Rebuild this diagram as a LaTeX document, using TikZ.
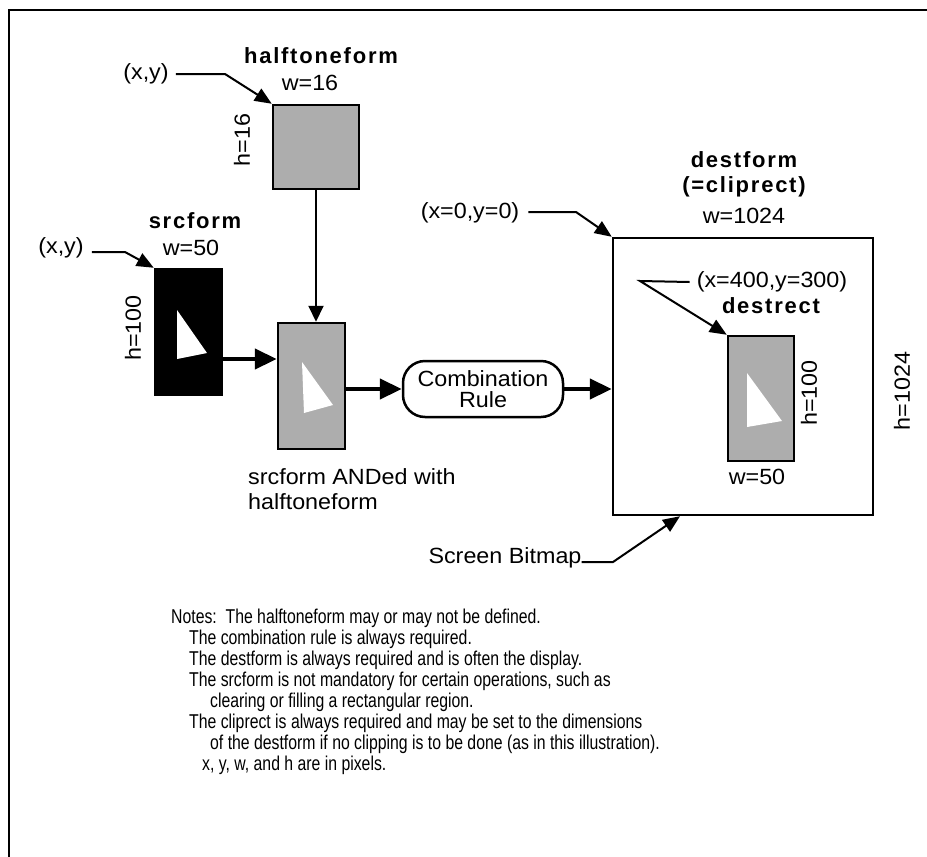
\documentclass[tikz,border=0pt]{standalone}
\usepackage{fontspec}
\setmainfont{Liberation Sans}[FakeStretch=1.06]
\newfontfamily\boldlabfont{Liberation Sans Bold}[LetterSpace=8]
\newfontfamily\notefont{Liberation Sans}[FakeStretch=0.79]
\usetikzlibrary{arrows.meta}
\tikzset{
  lab/.style={font=\fontsize{22}{21}\selectfont, inner sep=0pt, align=center},
  blab/.style={font=\boldlabfont\fontsize{22}{24}\selectfont, inner sep=0pt, align=center},
  formbox/.style={draw, line width=2.5pt, inner sep=0pt},
  halftone/.style={formbox, fill=black!32},
  leader/.style={line width=2pt, -{Triangle[length=17pt,width=14pt]}},
  thinarrow/.style={line width=2pt, -{Triangle[length=16pt,width=15pt]}},
  thickarrow/.style={line width=4.5pt, -{Triangle[length=22pt,width=20pt]}},
  notes/.style={font=\notefont\fontsize{20}{21}\selectfont, inner sep=0pt, align=left}
}
\begin{document}
\begin{tikzpicture}[x=1pt,y=-1pt]
\useasboundingbox (0,0) rectangle (927,857);
% frame
\draw[line width=2pt] (9,857) -- (9,10) -- (927,10);

% boxes
\node[halftone, minimum width=86pt, minimum height=84pt] (half) at (316,147) {};
\node[formbox, fill=black, minimum width=67pt, minimum height=126pt] (src) at (188.5,332) {};
\node[halftone, minimum width=67pt, minimum height=126pt] (and) at (311.5,386) {};
\node[draw, line width=2.5pt, rounded corners=22pt, minimum width=160pt, minimum height=56pt, lab] (comb) at (483,389) {Combination\\Rule};
\node[formbox, minimum width=260pt, minimum height=277pt] (dest) at (743,376.5) {};
\node[halftone, minimum width=66pt, minimum height=125pt] (rect) at (761,398.5) {};

% white triangles
\fill[white] (177,310) -- (177,359) -- (207,353) -- cycle;
\fill[white] (302,362) -- (304,413) -- (333,405) -- cycle;
\fill[white] (747,373) -- (747,427) -- (782,421) -- cycle;

% labels
\node[blab] (halfname) at (321,56) {halftoneform};
\node[lab] (halfw) at (310,83) {w=16};
\node[lab, rotate=90] (halfh) at (242,140) {h=16};
\node[lab] (hxy) at (146,74) {(x,y)};

\node[blab] (srcname) at (195,221) {srcform};
\node[lab] (srcw) at (191,248) {w=50};
\node[lab, rotate=90] (srch) at (133,328) {h=100};
\node[lab] (sxy) at (61,248) {(x,y)};

\node[lab, align=left, anchor=north west, font=\fontsize{22}{25}\selectfont] (andlab) at (248,468) {srcform ANDed with\\halftoneform};

\node[blab] (destname) at (744,160) {destform};
\node[blab] (clipname) at (744,187) {(=cliprect)};
\node[lab] (destw) at (744,216) {w=1024};
\node[lab, rotate=90] (desth) at (902,391) {h=1024};
\node[lab] (dxy) at (470,213) {(x=0,y=0)};

\node[lab] (rxy) at (772,282) {(x=400,y=300)};
\node[blab] (rectname) at (771,306) {destrect};
\node[lab, rotate=90] (recth) at (809,393) {h=100};
\node[lab] (rectw) at (757,477) {w=50};

\node[lab] (screen) at (505,558) {Screen Bitmap};

% leaders
\draw[leader] ([xshift=7pt]hxy.east) -- (225,74) -- (half.north west);
\draw[leader] ([xshift=8pt,yshift=-4pt]sxy.east) -- (125,252) -- (src.north west);
\draw[leader] ([xshift=9pt,yshift=1pt]dxy.east) -- (576,212) -- (dest.north west);
\draw[leader] ([xshift=-7pt]rxy.west) -- (640,281) -- (rect.north west);
\draw[leader] ([yshift=-4pt]screen.east) -- (613,562) -- (dest.south west -| 680,0);

% flow arrows
\draw[thinarrow] (half.south) -- (half.south |- and.north);
\draw[thickarrow] ([yshift=-27pt]src.east) -- ([yshift=-27pt]src.east -| and.west);
\draw[thickarrow] (comb.west -| and.east) -- (comb.west);
\draw[thickarrow] (comb.east) -- (comb.east -| dest.west);

% notes
\node[notes, anchor=north west] (notetext) at (171,609) {Notes:\ \ The halftoneform may or may not be defined.\\
\hspace*{18pt}The combination rule is always required.\\
\hspace*{18pt}The destform is always required and is often the display.\\
\hspace*{18pt}The srcform is not mandatory for certain operations, such as\\
\hspace*{39pt}clearing or filling a rectangular region.\\
\hspace*{18pt}The cliprect is always required and may be set to the dimensions\\
\hspace*{39pt}of the destform if no clipping is to be done (as in this illustration).\\
\hspace*{31pt}x, y, w, and h are in pixels.};
\end{tikzpicture}
\end{document}
